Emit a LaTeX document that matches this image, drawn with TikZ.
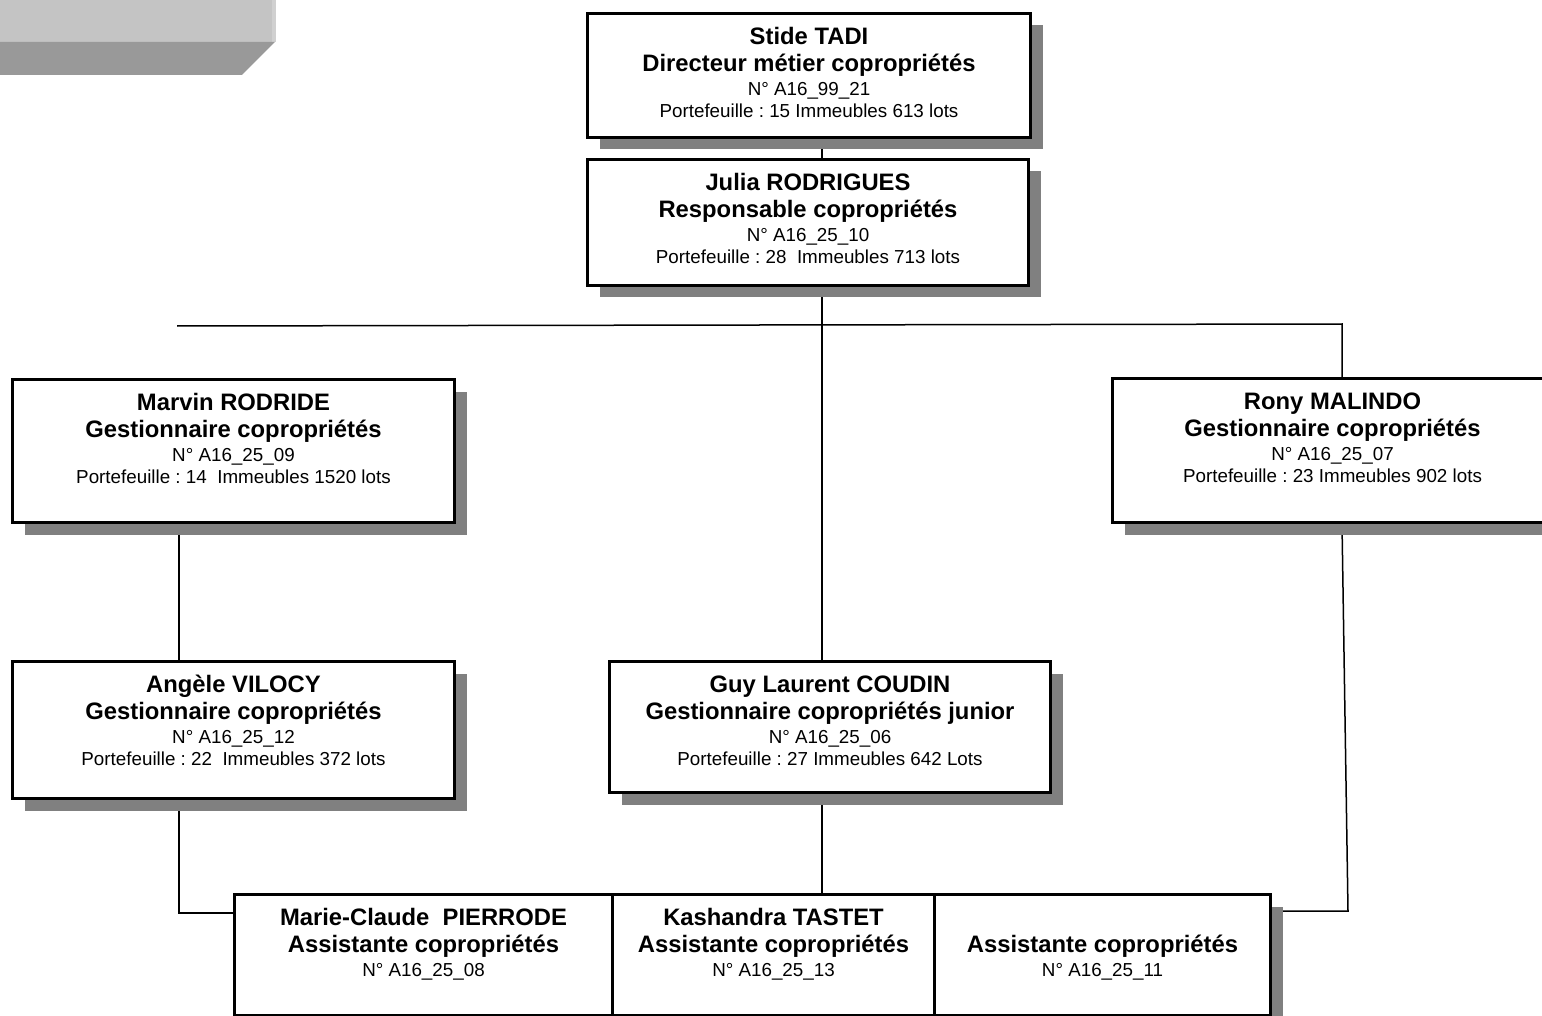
\documentclass[tikz,border=0pt]{standalone}
\usepackage{fontspec}
\setmainfont{Liberation Sans}
\usetikzlibrary{shadows,backgrounds}
\frenchspacing
\definecolor{shadecol}{HTML}{808080}
\definecolor{hdrlight}{HTML}{C4C4C4}
\definecolor{hdredge}{HTML}{D0D0D0}
\definecolor{hdrdark}{HTML}{999999}
\newcommand\lnA[1]{\fontsize{23.8}{27}\selectfont\bfseries\rule{0pt}{31pt}#1\par}
\newcommand\lnB[1]{\fontsize{23.8}{27}\selectfont\bfseries #1\par}
\newcommand\lnC[1]{\fontsize{18.8}{24}\selectfont\mdseries #1\par}
\newcommand\lnD[1]{\fontsize{18.8}{22}\selectfont\mdseries #1\par}
\newcommand\cardbody[3]{\parbox[t][#2pt][t]{#1pt}{\parskip=0pt\parindent=0pt\centering #3}}
\tikzset{
  card/.style={draw, line width=3pt, fill=white, inner sep=0pt, anchor=north west,
    general shadow={fill=shadecol, shadow xshift=12pt, shadow yshift=-12pt}},
  link/.style={draw, line width=1.5pt}
}
\begin{document}
\begin{tikzpicture}[x=1pt,y=-1pt]
\useasboundingbox (0,0) rectangle (1542,1016);
\clip (0,0) rectangle (1542,1016);
% header decoration
\fill[hdrlight] (0,0) rectangle (275,42);
\fill[hdredge] (272,0) rectangle (276,42);
\fill[hdrdark] (0,42) -- (275,42) -- (242,75) -- (0,75) -- cycle;

% boxes
\node[card] (tadi) at (586,12) {\cardbody{443}{124}{\lnA{Stide TADI}\lnB{Directeur métier copropriétés}\lnC{N° A16\_99\_21}\lnD{Portefeuille : 15 Immeubles 613 lots}}};
\node[card] (julia) at (586,158) {\cardbody{441}{126}{\lnA{Julia RODRIGUES}\lnB{Responsable copropriétés}\lnC{N° A16\_25\_10}\lnD{Portefeuille : 28\ \ Immeubles 713 lots}}};
\node[card] (marvin) at (11,378) {\cardbody{442}{143}{\lnA{Marvin RODRIDE}\lnB{Gestionnaire copropriétés}\lnC{N° A16\_25\_09}\lnD{Portefeuille : 14\ \ Immeubles 1520 lots}}};
\node[card] (rony) at (1111,377) {\cardbody{440}{144}{\lnA{Rony MALINDO}\lnB{Gestionnaire copropriétés}\lnC{N° A16\_25\_07}\lnD{Portefeuille : 23 Immeubles 902 lots}}};
\node[card] (angele) at (11,660) {\cardbody{442}{137}{\lnA{Angèle VILOCY}\lnB{Gestionnaire copropriétés}\lnC{N° A16\_25\_12}\lnD{Portefeuille : 22\ \ Immeubles 372 lots}}};
\node[card] (guy) at (608,660) {\cardbody{441}{131}{\lnA{Guy Laurent COUDIN}\lnB{Gestionnaire copropriétés junior}\lnC{N° A16\_25\_06}\lnD{Portefeuille : 27 Immeubles 642 Lots}}};
\node[card] (marie) at (233,893) {\cardbody{378}{121}{\lnA{Marie-Claude\ \ PIERRODE}\lnB{Assistante copropriétés}\lnC{N° A16\_25\_08}}};
\node[card] (kash) at (611,893) {\cardbody{322}{121}{\lnA{Kashandra TASTET}\lnB{Assistante copropriétés}\lnC{N° A16\_25\_13}}};
\node[card] (asst) at (933,893) {\cardbody{336}{121}{\lnA{\mbox{}}\lnB{Assistante copropriétés}\lnC{N° A16\_25\_11}}};

% connector points
\coordinate (busL) at (177,326);
\coordinate (busM) at (822,325);
\coordinate (busR) at (1342,324);
\coordinate (leftx) at (179,0);
\coordinate (mj) at (233,913);
\coordinate (rb) at (1348,911);

\begin{scope}[on background layer]
\draw[link] (tadi.south -| busM) -- (julia.north -| busM);
\draw[link] (julia.south -| busM) -- (guy.north -| busM);
\draw[link] (busL) -- (busR) -- (rony.north -| busR);
\draw[link] (marvin.south -| leftx) -- (angele.north -| leftx);
\draw[link] (angele.south -| leftx) |- (mj);
\draw[link] (guy.south -| busM) -- (kash.north -| busM);
\draw[link] (rony.south -| busR) -- (rb) -- (asst.east |- rb);
\end{scope}
\end{tikzpicture}
\end{document}
